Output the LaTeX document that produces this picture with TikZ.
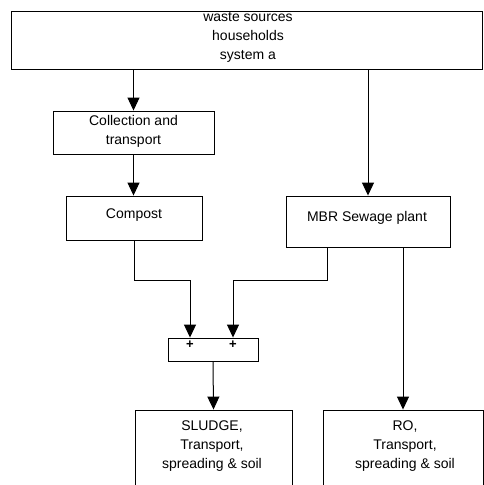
\documentclass[tikz,border=0pt]{standalone}
\usepackage{fontspec}
\setmainfont{Liberation Sans}
\usetikzlibrary{arrows.meta}

\tikzset{
  box/.style={draw, line width=0.9pt, inner sep=0pt},
  boxtext/.style={align=center, inner sep=0pt, font=\fontsize{14}{19}\selectfont},
  plus/.style={inner sep=0pt, font=\fontsize{13}{13}\selectfont\bfseries},
  flow/.style={line width=1pt, -{Triangle[width=12pt,length=13pt]}}
}

\begin{document}
\begin{tikzpicture}[x=1pt,y=1pt,yscale=-1]
\useasboundingbox (0,0) rectangle (483,485);

% boxes
\node[box, minimum width=471, minimum height=58] (src) at (246.5,40) {};
\node[boxtext] (srctext) at (248,37.5) {waste sources\\households\\system a};

\node[box, minimum width=161, minimum height=43] (coll) at (133.5,132.5) {};
\node[boxtext] (colltext) at (133.5,131) {Collection and\\transport};

\node[box, minimum width=136, minimum height=44] (compost) at (134,218) {};
\node[boxtext] (composttext) at (134,215) {Compost};

\node[box, minimum width=164, minimum height=51] (mbr) at (368,221.5) {};
\node[boxtext] (mbrtext) at (367,218) {MBR Sewage plant};

% mixer
\node[box, minimum width=90, minimum height=23] (mixer) at (213,349.5) {};
\node[plus] (p1) at (190,345) {+};
\node[plus] (p2) at (233,345) {+};

\node[box, minimum width=157, minimum height=85] (sludge) at (213.5,452.5) {};
\node[boxtext] (sludgetext) at (212,446) {SLUDGE,\\Transport,\\spreading \& soil};

\node[box, minimum width=160, minimum height=85] (ro) at (403,452.5) {};
\node[boxtext] (rotext) at (405,446) {RO,\\Transport,\\spreading \& soil};

\coordinate (mbrout) at (327,247);

% arrows
\draw[flow] (src.south -| coll.north) -- (coll.north);
\draw[flow] (coll.south) -- (coll.south |- compost.north);
\draw[flow] (src.south -| mbr.north) -- (mbr.north);
\draw[flow] (compost.south) -- ++(0,40) -| (p1 |- mixer.north);
\draw[flow] (mbrout) -- ++(0,33) -| (p2 |- mixer.north);
\draw[flow] (mixer.south) -- (sludge.north);
\draw[flow] (mbr.south -| ro.north) -- (ro.north);

\end{tikzpicture}
\end{document}
